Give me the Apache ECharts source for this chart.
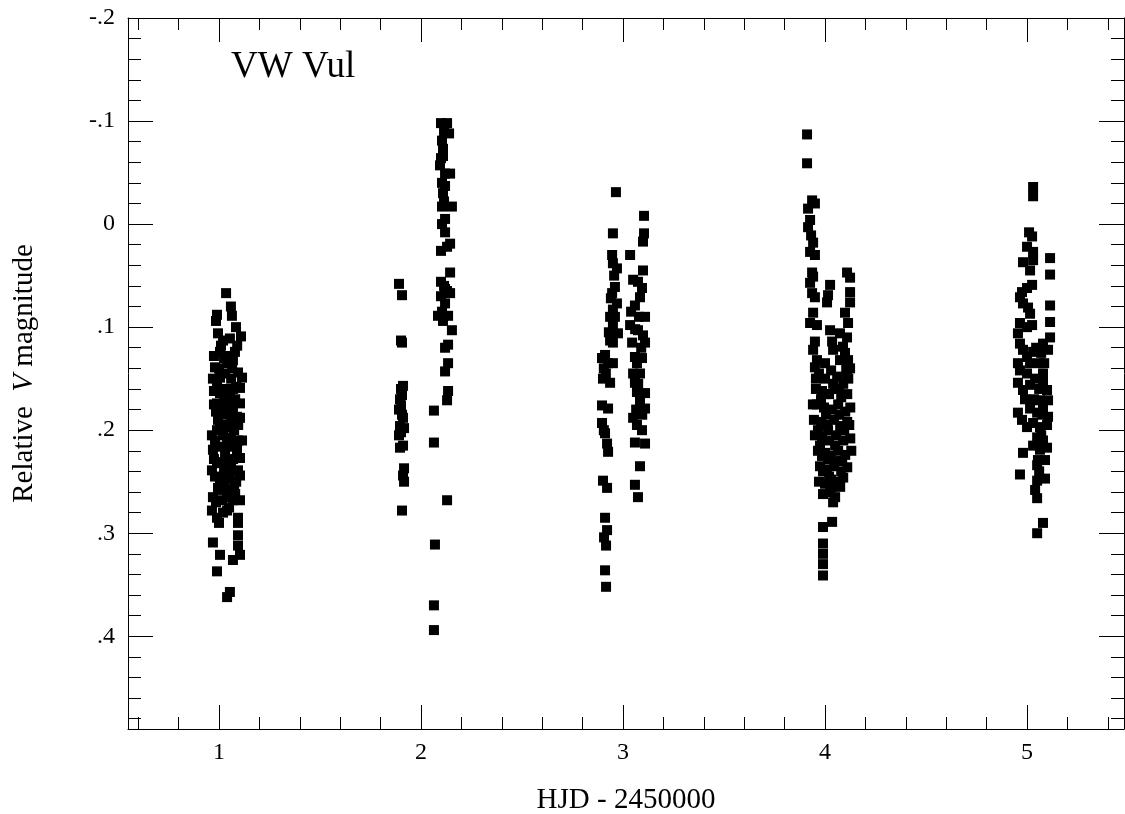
<!DOCTYPE html>
<html>
<head>
<meta charset="utf-8">
<script src="https://cdn.jsdelivr.net/npm/echarts@6/dist/echarts.min.js"></script>
<style>html,body{margin:0;padding:0;background:#fff}#c{width:1125px;height:814px}</style>
</head>
<body>
<div id="c"></div>
<script>
// ---- data: [HJD - 2450000, relative V magnitude] ----
const night1 = [
[1.035,.067],[1.059,.080],[1.064,.089],[0.990,.088],[0.985,.094],[1.084,.100],[1.109,.109],[0.995,.106],[1.020,.113],[1.054,.111],
[1.005,.124],[1.079,.124],[0.980,.139],[1.040,.135],[1.069,.132],[1.094,.144],[0.970,.150],[1.005,.149],[1.114,.149],[0.990,.156],
[1.104,.159],[1.005,.164],[1.054,.168],[0.990,.174],[1.069,.178],[1.104,.174],[1.040,.184],[0.995,.190],[1.089,.187],[1.104,.188],
[1.005,.197],[1.054,.197],[0.965,.205],[1.040,.207],[1.114,.210],[0.970,.219],[1.015,.216],[1.054,.216],[1.089,.219],[1.104,.227],
[0.990,.231],[0.965,.239],[1.050,.239],[1.094,.239],[1.005,.249],[1.054,.247],[1.104,.244],[0.995,.256],[1.040,.258],[0.970,.265],
[1.015,.268],[1.069,.268],[1.104,.268],[0.965,.278],[1.040,.278],[1.094,.285],[1.094,.290],[1.094,.302],[1.094,.312],[0.970,.309],
[1.005,.321],[1.069,.326],[1.104,.321],[0.990,.337],[1.054,.357],[1.040,.362],
[1.000,.140],[1.030,.145],[1.060,.150],[1.085,.158],[0.975,.162],[1.025,.170],[1.045,.176],[1.080,.170],[0.985,.182],[1.015,.185],
[1.060,.188],[1.030,.195],[1.075,.200],[0.980,.210],[1.030,.222],[1.070,.228],[1.010,.232],[1.040,.229],[0.980,.245],[1.025,.252],
[1.075,.255],[1.060,.262],[0.985,.270],[1.020,.280],[1.050,.275],[1.000,.290],[1.065,.140],[1.010,.118],[1.090,.118],[0.975,.128],
[1.050,.128],
[0.975,.175],[1.035,.160],[1.070,.160],[1.000,.178],[1.055,.180],[1.095,.195],[0.990,.200],[1.020,.205],[1.060,.208],[1.095,.210],
[0.975,.228],[1.060,.232],[1.025,.240],[1.085,.250],[1.040,.265],[0.990,.285],[1.080,.262],[1.010,.258],[1.045,.195],[1.025,.130]
];
const night2 = [
[1.891,.058],[1.906,.069],[1.901,.113],[1.906,.115],[1.911,.157],[1.906,.166],[1.901,.176],[1.891,.180],[1.911,.188],[1.896,.196],
[1.901,.202],[1.911,.215],[1.896,.217],[1.916,.237],[1.911,.244],[1.916,.250],[1.906,.278],[1.896,.170],[1.906,.185],[1.891,.205],
[1.916,.198],[1.901,.160],
[2.099,-.098],[2.129,-.098],[2.139,-.088],[2.104,-.081],[2.109,-.073],[2.099,-.064],[2.094,-.057],[2.119,-.049],[2.144,-.049],[2.119,-.037],
[2.109,-.030],[2.104,-.017],[2.153,-.017],[2.119,-.005],[2.119,.008],[2.144,.019],[2.099,.026],[2.144,.047],[2.099,.056],[2.119,.063],
[2.144,.067],[2.099,.070],[2.119,.077],[2.084,.089],[2.134,.089],[2.153,.103],[2.134,.117],[2.119,.120],[2.134,.135],[2.119,.143],
[2.134,.162],[2.129,.171],[2.064,.181],[2.064,.212],[2.129,.268],[2.069,.311],[2.064,.370],[2.064,.394],
[2.114,-.090],[2.109,-.066],[2.104,-.040],[2.114,-.022],[2.104,.000],[2.129,.022],[2.114,.060],[2.104,.085],[2.129,.065],[2.109,.094]
];
const night3 = [
[2.965,-.031],[3.104,-.008],[2.950,.009],[3.104,.009],[3.099,.017],[2.946,.030],[2.950,.038],[2.970,.043],[3.035,.030],[3.099,.045],
[3.050,.054],[3.074,.056],[3.094,.062],[3.084,.071],[3.059,.079],[2.960,.061],[2.946,.067],[2.970,.077],[2.950,.083],[3.109,.090],
[2.936,.090],[2.950,.098],[2.975,.106],[2.950,.115],[2.936,.113],[3.035,.098],[3.074,.103],[3.099,.108],[3.109,.115],[3.045,.115],
[2.896,.130],[2.926,.135],[2.950,.135],[2.911,.127],[3.059,.129],[3.094,.130],[3.069,.135],[2.901,.150],[2.936,.154],[3.050,.145],
[3.084,.145],[3.059,.154],[3.069,.163],[3.084,.171],[3.109,.164],[2.896,.176],[2.926,.179],[3.109,.179],[3.050,.188],[3.069,.195],
[3.094,.200],[2.896,.193],[2.911,.203],[2.921,.213],[2.926,.221],[3.059,.212],[3.109,.213],[3.084,.235],[3.059,.253],[3.074,.265],
[2.901,.249],[2.921,.256],[2.911,.285],[2.921,.297],[2.906,.304],[2.916,.312],[2.911,.336],[2.916,.352],
[2.956,.050],[2.940,.072],[2.960,.090],[2.930,.105],[2.915,.145],[2.905,.140],[3.079,.090],[3.040,.085],[3.090,.120],[3.060,.102],
[3.075,.155],[3.095,.185],[2.905,.200],[3.065,.180]
];
const night4 = [
[3.911,-.087],[3.911,-.059],[3.936,-.023],[3.950,-.020],[3.916,-.015],[3.926,-.004],[3.916,.003],[3.931,.011],[3.941,.018],[3.926,.027],
[3.950,.030],[3.936,.047],[3.941,.051],[3.926,.057],[3.936,.067],[3.950,.071],[4.109,.047],[4.124,.052],[4.025,.059],[4.015,.069],
[4.010,.076],[4.124,.066],[4.124,.076],[3.941,.086],[3.926,.096],[3.960,.098],[4.099,.086],[4.114,.096],[4.025,.103],[4.074,.106],
[4.109,.110],[3.950,.114],[3.941,.122],[3.960,.132],[3.950,.139],[4.035,.114],[4.040,.122],[4.089,.119],[4.099,.125],[4.074,.132],
[4.114,.132],[4.124,.140],[4.109,.149],
[3.970,.145],[4.000,.150],[4.030,.142],[4.060,.148],[4.090,.155],[4.115,.150],
[3.955,.160],[3.985,.162],[4.020,.165],[4.050,.160],[4.080,.168],[4.110,.165],
[3.960,.175],[3.995,.178],[4.035,.180],[4.065,.175],[4.100,.182],[4.125,.178],
[3.945,.190],[3.980,.192],[4.010,.195],[4.045,.190],[4.075,.196],[4.110,.192],
[3.950,.205],[3.985,.207],[4.020,.210],[4.055,.205],[4.090,.210],[4.125,.208],
[3.965,.220],[4.000,.222],[4.030,.225],[4.065,.220],[4.100,.224],
[3.975,.235],[4.010,.238],[4.045,.235],[4.080,.240],[4.110,.236],
[3.970,.250],[4.000,.252],[4.030,.248],[4.060,.250],[4.090,.246],
[3.990,.262],[4.025,.260],[4.050,.265],
[4.040,.270],[4.035,.289],[3.990,.294],[3.990,.310],[3.990,.320],[3.990,.330],[3.990,.341],
[3.940,.175],[3.955,.150],[4.130,.220],[4.000,.135],[4.015,.200],[4.070,.185],[4.040,.155],[3.975,.215],[4.085,.230],[4.020,.245],
[3.965,.200],[4.005,.185],[4.050,.215],[4.095,.200],[4.120,.195],[3.980,.170],[4.060,.230],[4.015,.228],[4.070,.160],[4.105,.140],
[3.990,.240],[4.035,.255],[3.985,.225],[4.075,.255],[4.005,.165]
];
const night5 = [
[5.030,-.036],[5.030,-.027],[5.010,.008],[5.025,.012],[5.000,.022],[5.030,.027],[5.114,.033],[4.980,.037],[5.030,.035],[5.015,.045],
[5.114,.049],[5.025,.059],[5.000,.062],[4.975,.066],[4.965,.071],[4.980,.077],[5.005,.081],[5.015,.087],[5.114,.079],[5.114,.095],
[4.965,.096],[5.000,.100],[5.025,.098],[4.955,.106],[5.114,.110],[5.079,.116],[5.104,.122],[4.965,.116],[4.980,.122],[5.030,.124],
[5.000,.129],[4.955,.135],[4.965,.142],[5.015,.135],[5.064,.135],[5.079,.145],[4.955,.154],[4.980,.161],[5.015,.156],[5.079,.154],
[5.099,.161],[5.104,.171],[5.064,.171],
[4.955,.183],[4.975,.190],[5.015,.179],[5.050,.183],[5.079,.180],[5.104,.187],[5.000,.197],[5.030,.193],[5.064,.197],[5.099,.195],
[5.050,.207],[5.079,.210],[5.064,.219],[5.099,.217],[5.054,.229],[5.089,.229],[5.050,.234],[4.980,.222],[4.965,.243],[5.050,.249],
[5.089,.247],[5.040,.258],[5.050,.266],[5.079,.290],[5.050,.300],
[5.040,.150],[5.060,.160],[5.000,.145],[5.045,.120],[5.070,.125],[5.085,.135],[4.990,.170],[5.035,.170],[5.070,.205],[5.030,.215],
[5.060,.240],[5.075,.185]
];
const xMajor = [1, 2, 3, 4, 5];
const xMinor = [0.6, 0.8, 1.2, 1.4, 1.6, 1.8, 2.2, 2.4, 2.6, 2.8, 3.2, 3.4, 3.6, 3.8, 4.2, 4.4, 4.6, 4.8, 5.2, 5.4];
const yMajor = [-0.2, -0.1, 0, 0.1, 0.2, 0.3, 0.4];
const yMinor = [-0.18, -0.16, -0.14, -0.12, -0.08, -0.06, -0.04, -0.02, 0.02, 0.04, 0.06, 0.08, 0.12, 0.14, 0.16, 0.18,
                0.22, 0.24, 0.26, 0.28, 0.32, 0.34, 0.36, 0.38, 0.42, 0.44, 0.46, 0.48];
const xRange = [0.5495, 5.480];
const yRange = [-0.2, 0.490];
const titleText = 'VW Vul';
const xName = 'HJD - 2450000';

const FONT = '"Liberation Serif","DejaVu Serif",serif';
const chart = echarts.init(document.getElementById('c'), null, {renderer: 'canvas'});

function xAx(pos, ticks, len, main) {
  return {
    type: 'value', position: pos, min: xRange[0], max: xRange[1],
    axisLine: {show: main, onZero: false, lineStyle: {color: '#000', width: 1}},
    axisTick: {show: true, inside: true, length: len, customValues: ticks, lineStyle: {color: '#000', width: 1}},
    axisLabel: {show: main && pos === 'bottom', customValues: xMajor, margin: 12,
      color: '#000', fontFamily: FONT, fontSize: 24},
    splitLine: {show: false},
    name: (main && pos === 'bottom') ? xName : '',
    nameLocation: 'middle', nameGap: 57,
    nameTextStyle: {color: '#000', fontFamily: FONT, fontSize: 29}
  };
}
function yAx(pos, ticks, len, main) {
  return {
    type: 'value', position: pos, inverse: true, min: yRange[0], max: yRange[1],
    axisLine: {show: main, onZero: false, lineStyle: {color: '#000', width: 1}},
    axisTick: {show: true, inside: true, length: len, customValues: ticks, lineStyle: {color: '#000', width: 1}},
    axisLabel: {show: main && pos === 'left', customValues: yMajor, margin: 13,
      color: '#000', fontFamily: FONT, fontSize: 24,
      formatter: function (v) {
        const r = Math.round(v * 10) / 10;
        if (r === 0) return '0';
        return (r < 0 ? '-' : '') + Math.abs(r).toFixed(1).replace(/^0/, '');
      }},
    splitLine: {show: false},
    name: (main && pos === 'left') ? '{a|Relative  }{b|V}{a| magnitude}' : '',
    nameLocation: 'middle', nameGap: 89, nameRotate: 90,
    nameTextStyle: {color: '#000', fontFamily: FONT, fontSize: 29,
      rich: {a: {fontFamily: FONT, fontSize: 29, color: '#000'},
             b: {fontFamily: FONT, fontSize: 29, color: '#000', fontStyle: 'italic'}}}
  };
}

function sc(data) {
  return {type: 'scatter', xAxisIndex: 0, yAxisIndex: 0, data: data,
    symbol: 'rect', symbolSize: 10, itemStyle: {color: '#000', opacity: 1},
    emphasis: {disabled: true}, animation: false};
}

chart.setOption({
  animation: false,
  backgroundColor: '#fff',
  title: {text: titleText, left: 226, top: 44,
    textStyle: {fontFamily: FONT, fontSize: 37, fontWeight: 'normal', color: '#000'}},
  grid: {left: 128, right: 1, top: 18, bottom: 85, containLabel: false, outerBoundsMode: 'none', show: false},
  xAxis: [xAx('bottom', xMajor, 24, true), xAx('bottom', xMinor, 12, false),
          xAx('top', xMajor, 24, true), xAx('top', xMinor, 12, false)],
  yAxis: [yAx('left', yMajor, 25, true), yAx('left', yMinor, 13, false),
          yAx('right', yMajor, 25, true), yAx('right', yMinor, 13, false)],
  series: [sc(night1), sc(night2), sc(night3), sc(night4), sc(night5)]
});
</script>
</body>
</html>
